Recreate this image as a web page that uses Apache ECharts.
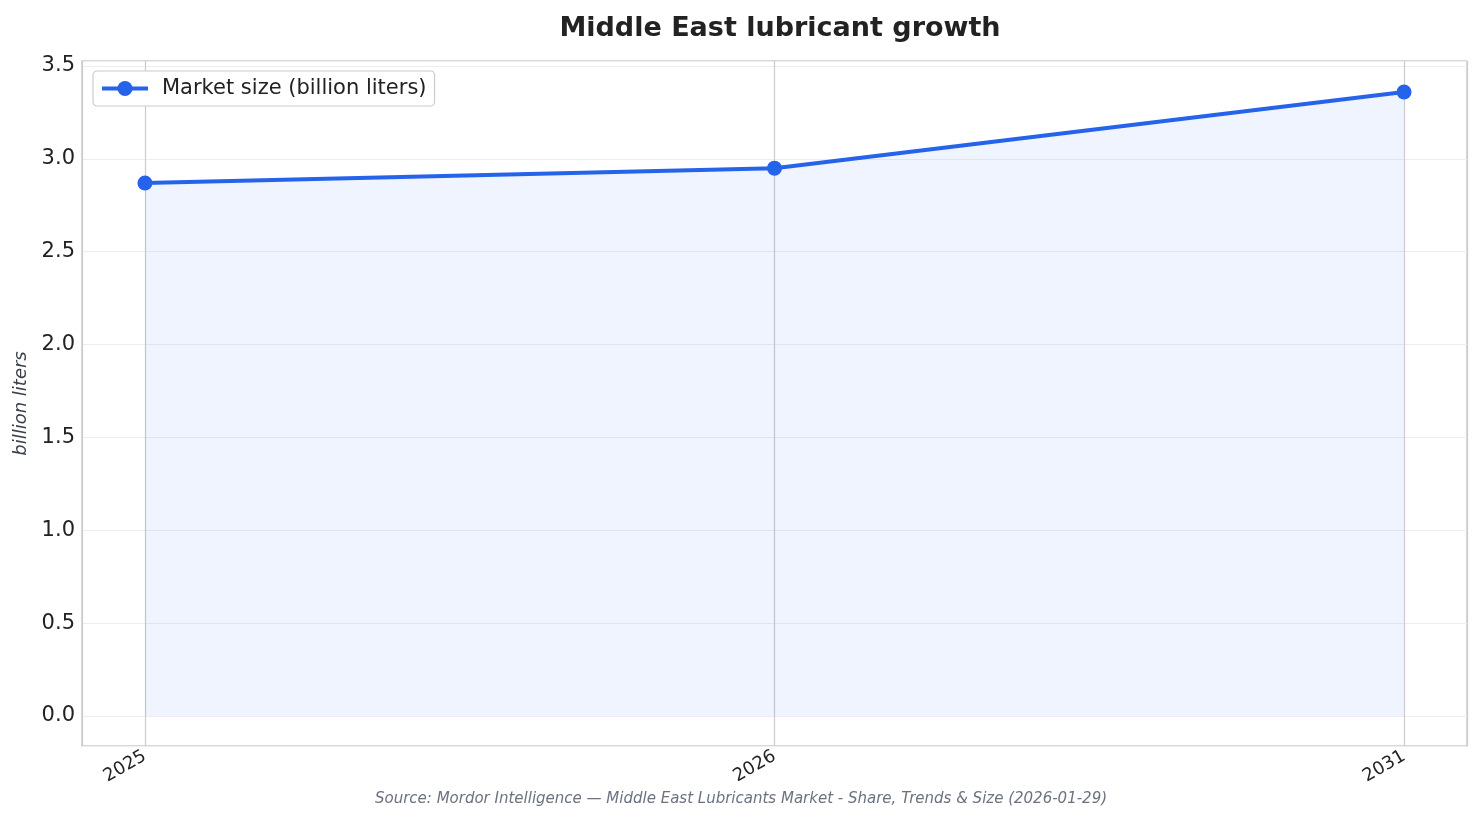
<!DOCTYPE html>
<html>
<head>
<meta charset="utf-8">
<script src="https://cdn.jsdelivr.net/npm/echarts@6/dist/echarts.min.js"></script>
<style>
  html, body { margin: 0; padding: 0; background: #fff; }
  #chart { width: 1482px; height: 824px; }
</style>
</head>
<body>
<div id="chart"></div>
<script>
// data
const years = ["2025", "2026", "2031"];
const marketSize = [2.87, 2.95, 3.36];
const seriesName = "Market size (billion liters)";

const font = "DejaVu Sans";
const blue = "#2563EB";

const chart = echarts.init(document.getElementById("chart"));

const option = {
  backgroundColor: "#fff",
  animation: false,
  textStyle: { fontFamily: font },
  title: {
    text: "Middle East lubricant growth",
    left: 775,
    textAlign: "center",
    top: 10,
    textStyle: { fontFamily: font, fontSize: 27, fontWeight: "bold", color: "#222" },
  },
  legend: {
    left: 93,
    top: 71,
    padding: [7, 8, 7, 7],
    itemWidth: 46,
    itemHeight: 19,
    borderColor: "#cccccc",
    borderWidth: 1.2,
    borderRadius: 4,
    backgroundColor: "#fff",
    lineStyle: { width: 4 },
    textStyle: { fontFamily: font, fontSize: 21, color: "#222", padding: [0, 0, 0, 9] },
    data: [seriesName],
  },
  grid: {
    left: 82,
    right: 15,
    top: 61,
    bottom: 78,
    show: true,
    borderColor: "#cccccc",
    borderWidth: 1.5,
    backgroundColor: "transparent",
  },
  xAxis: {
    type: "value",
    min: -0.1,
    max: years.length - 0.9,
    splitNumber: 2,
    axisLine: { show: false },
    axisTick: { show: false },
    splitLine: { show: true, lineStyle: { color: "#cccccc", width: 1.2 } },
    axisLabel: {
      showMinLabel: false,
      showMaxLabel: false,
      rotate: 30,
      margin: 9,
      fontFamily: font,
      fontSize: 18,
      color: "#222",
      formatter: (v) => years[Math.round(v)] || "",
    },
  },
  yAxis: {
    type: "value",
    min: -0.1615,
    max: 3.527,
    splitNumber: 7,
    name: "billion liters",
    nameLocation: "middle",
    nameGap: 50,
    nameTextStyle: { fontFamily: font, fontSize: 18, fontStyle: "italic", color: "#3a3f4a" },
    axisLine: { show: false },
    axisTick: { show: false },
    splitLine: { show: true, lineStyle: { color: "#eeeeee", width: 1.2 } },
    axisLabel: {
      showMinLabel: false,
      showMaxLabel: false,
      margin: 7,
      fontFamily: font,
      fontSize: 21,
      color: "#222",
      formatter: (v) => v.toFixed(1),
    },
  },
  series: [
    {
      name: seriesName,
      type: "line",
      data: marketSize.map((v, i) => [i, v]),
      symbol: "circle",
      symbolSize: 15,
      lineStyle: { color: blue, width: 4 },
      itemStyle: { color: blue },
      areaStyle: { color: "rgba(37,99,235,0.1)", origin: 0 },
      z: 3,
    },
  ],
  graphic: [
    {
      type: "text",
      left: "center",
      top: 792,
      style: {
        text: "Source: Mordor Intelligence \u2014 Middle East Lubricants Market - Share, Trends & Size (2026-01-29)",
        font: "italic 15px 'DejaVu Sans'",
        fill: "#6b7280",
      },
    },
  ],
};

chart.setOption(option);
</script>
</body>
</html>
